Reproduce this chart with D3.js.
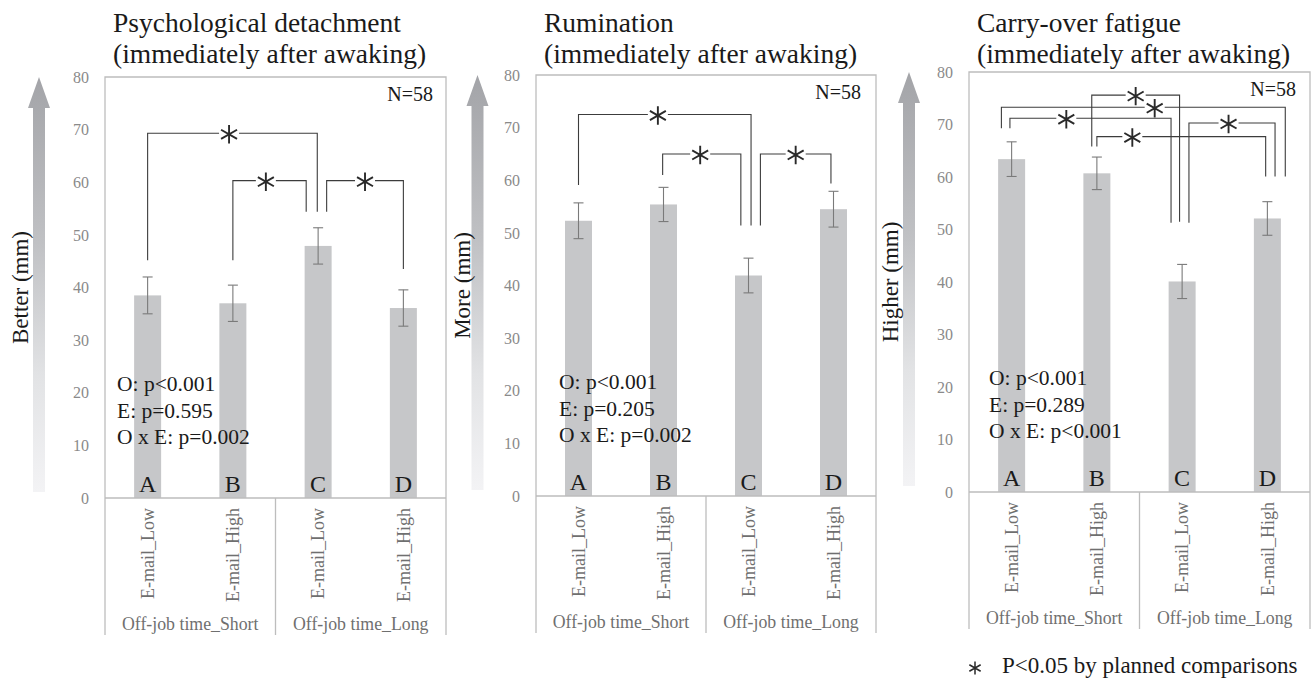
<!DOCTYPE html>
<html>
<head>
<meta charset="utf-8">
<script src="https://cdn.jsdelivr.net/npm/d3@7"></script>
<style>
body { margin: 0; background: #fff; }
text { font-family: "Liberation Serif", "Times New Roman", serif; }
</style>
</head>
<body>
<div id="viz"></div>
<script>
// ---- data ----
var letters = ['A', 'B', 'C', 'D'];
var emailLevels = ['E-mail_Low', 'E-mail_High', 'E-mail_Low', 'E-mail_High'];
var offJobGroups = ['Off-job time_Short', 'Off-job time_Long'];
var yTicks = [0, 10, 20, 30, 40, 50, 60, 70, 80];

var detachTitle = ['Psychological detachment', '(immediately after awaking)'];
var detachMean = [38.5, 37.0, 47.9, 36.1];
var detachSE = [3.5, 3.45, 3.45, 3.45];
var detachStats = ['O: p<0.001', 'E: p=0.595', 'O x E: p=0.002'];
// [from, to (category index), top, leg end from, leg end to, star position 0..1]
var detachBrackets = [
    [0, 1.99, 69.3, 45.2, 54.4, 0.48],
    [1.0, 1.86, 60.3, 45.2, 54.4, 0.45],
    [2.1, 3.0, 60.3, 54.4, 43.5, 0.5]
];

var rumTitle = ['Rumination', '(immediately after awaking)'];
var rumMean = [52.3, 55.4, 41.9, 54.5];
var rumSE = [3.4, 3.25, 3.3, 3.4];
var rumStats = ['O: p<0.001', 'E: p=0.205', 'O x E: p=0.002'];
var rumBrackets = [
    [0, 2.03, 72.5, 59.1, 51.4, 0.46],
    [0.99, 1.91, 65, 61, 51.4, 0.48],
    [2.14, 2.97, 65, 51.4, 59.4, 0.5]
];

var fatTitle = ['Carry-over fatigue', '(immediately after awaking)'];
var fatMean = [63.4, 60.7, 40.1, 52.1];
var fatSE = [3.3, 3.1, 3.25, 3.2];
var fatStats = ['O: p<0.001', 'E: p=0.289', 'O x E: p<0.001'];
var fatBrackets = [
    [0.94, 1.97, 75.6, 65.8, 51.5, 0.5],
    [-0.12, 3.21, 73.3, 69.3, 60.1, 0.54],
    [-0.02, 1.87, 71.2, 69.3, 51.3, 0.35],
    [2.08, 3.09, 70.3, 51.3, 60.1, 0.46],
    [1.0, 2.98, 67.7, 65.8, 60.1, 0.21]
];

var yLabels = ['Better (mm)', 'More (mm)', 'Higher (mm)'];
var sampleNote = 'N=58';
var footnote = 'P<0.05 by planned comparisons';

// ---- layout ----
var W = 1315, H = 682;
var panels = [
    {title: detachTitle, ylab: yLabels[0], mean: detachMean, se: detachSE, stats: detachStats, brackets: detachBrackets,
     left: 105, right: 446, top: 77, zero: 498, arrowX: 39, labelX: 20, statsX: 12, nRight: 433},
    {title: rumTitle, ylab: yLabels[1], mean: rumMean, se: rumSE, stats: rumStats, brackets: rumBrackets,
     left: 536, right: 876, top: 75, zero: 496, arrowX: 477.5, labelX: 462, statsX: 23, nRight: 861},
    {title: fatTitle, ylab: yLabels[2], mean: fatMean, se: fatSE, stats: fatStats, brackets: fatBrackets,
     left: 969, right: 1310, top: 72, zero: 492, arrowX: 909, labelX: 890, statsX: 20, nRight: 1296}
];

var svg = d3.select('#viz').append('svg')
    .attr('width', W)
    .attr('height', H);

var defs = svg.append('defs');
var grad = defs.append('linearGradient')
    .attr('id', 'arrowGrad')
    .attr('x1', 0).attr('y1', 0).attr('x2', 0).attr('y2', 1);
grad.append('stop').attr('offset', '0%').attr('stop-color', '#a3a4a8');
grad.append('stop').attr('offset', '40%').attr('stop-color', '#c0c1c4');
grad.append('stop').attr('offset', '72%').attr('stop-color', '#e2e3e5');
grad.append('stop').attr('offset', '100%').attr('stop-color', '#f3f3f5');

var boxColor = '#bdbdbd';
var starSymbol = d3.symbol().type(d3.symbolAsterisk).size(240);

panels.forEach(function(p) {
    var g = svg.append('g');
    var bottom = p.zero + 137;

    var y = d3.scaleLinear().domain([0, 80]).range([p.zero, p.top]);
    var x = d3.scaleBand().domain(letters).range([p.left, p.right]).padding(0);
    var bw = x.bandwidth();
    var xc = function(i) { return x(letters[i]) + bw / 2; };
    // fractional category positions for the comparison brackets
    var xi = d3.scaleLinear().domain([-0.5, 3.5]).range([p.left, p.right]);

    // title
    g.append('text').attr('x', p.left + 8).attr('y', 32)
        .attr('font-size', '27.5px').attr('fill', '#1a1a1a').text(p.title[0]);
    g.append('text').attr('x', p.left + 8).attr('y', 63)
        .attr('font-size', '27.5px').attr('fill', '#1a1a1a').text(p.title[1]);

    // gradient arrow
    var tip = y(80), headBase = tip + 31, aBottom = y(0) - 6;
    g.append('path')
        .attr('d', 'M' + p.arrowX + ',' + tip +
            'L' + (p.arrowX + 11) + ',' + headBase +
            'L' + (p.arrowX + 6) + ',' + headBase +
            'L' + (p.arrowX + 6) + ',' + aBottom +
            'L' + (p.arrowX - 6) + ',' + aBottom +
            'L' + (p.arrowX - 6) + ',' + headBase +
            'L' + (p.arrowX - 11) + ',' + headBase + 'Z')
        .attr('fill', 'url(#arrowGrad)');

    // y label
    g.append('text')
        .attr('transform', 'translate(' + p.labelX + ',' + ((p.top + p.zero) / 2) + ') rotate(-90)')
        .attr('dy', '0.35em')
        .attr('text-anchor', 'middle')
        .attr('font-size', '23px')
        .attr('fill', '#1a1a1a')
        .text(p.ylab);

    // y axis ticks
    var ya = g.append('g')
        .attr('transform', 'translate(' + p.left + ',0)')
        .call(d3.axisLeft(y).tickValues(yTicks).tickSize(0).tickPadding(16));
    ya.select('.domain').remove();
    ya.selectAll('text')
        .attr('font-family', '"Liberation Serif", serif')
        .attr('font-size', '16px')
        .attr('fill', '#8a8a8a');

    // bars
    var barW = 27;
    g.selectAll('.bar').data(p.mean).enter().append('rect')
        .attr('x', function(d, i) { return xc(i) - barW / 2; })
        .attr('y', function(d) { return y(d); })
        .attr('width', barW)
        .attr('height', function(d) { return y(0) - y(d); })
        .attr('fill', '#c6c7c9');

    // error bars
    p.mean.forEach(function(m, i) {
        var cx = xc(i);
        var e = g.append('g').attr('stroke', '#7a7a7a').attr('stroke-width', 1.1);
        e.append('line').attr('x1', cx).attr('x2', cx).attr('y1', y(m + p.se[i])).attr('y2', y(m - p.se[i]));
        e.append('line').attr('x1', cx - 5).attr('x2', cx + 5).attr('y1', y(m + p.se[i])).attr('y2', y(m + p.se[i]));
        e.append('line').attr('x1', cx - 5).attr('x2', cx + 5).attr('y1', y(m - p.se[i])).attr('y2', y(m - p.se[i]));
    });

    // letters
    g.selectAll('.letter').data(letters).enter().append('text')
        .attr('x', function(d, i) { return xc(i); })
        .attr('y', y(0) - 6)
        .attr('text-anchor', 'middle')
        .attr('font-size', '24px')
        .attr('fill', '#1a1a1a')
        .text(function(d) { return d; });

    // frame
    var fr = g.append('g').attr('stroke', boxColor).attr('stroke-width', 1.3).attr('fill', 'none');
    fr.append('path').attr('d', 'M' + p.left + ',' + bottom + 'V' + y(80) + 'H' + p.right + 'V' + bottom);
    fr.append('line').attr('x1', p.left).attr('x2', p.right).attr('y1', y(0)).attr('y2', y(0));
    fr.append('line').attr('x1', x('C')).attr('x2', x('C')).attr('y1', y(0)).attr('y2', bottom);

    // category axis
    var xa = g.append('g')
        .attr('transform', 'translate(0,' + y(0) + ')')
        .call(d3.axisBottom(x).tickSize(0).tickFormat(function(d, i) { return emailLevels[i]; }));
    xa.select('.domain').remove();
    xa.selectAll('text')
        .attr('y', 0)
        .attr('x', -10)
        .attr('dy', '0.35em')
        .attr('transform', 'rotate(-90)')
        .style('text-anchor', 'end')
        .attr('font-family', '"Liberation Serif", serif')
        .attr('font-size', '18px')
        .attr('fill', '#6f6f6f');

    // group labels
    offJobGroups.forEach(function(lbl, k) {
        var a = x(letters[k * 2]), b = x(letters[k * 2 + 1]) + bw;
        g.append('text')
            .attr('x', (a + b) / 2)
            .attr('y', y(0) + 132)
            .attr('text-anchor', 'middle')
            .attr('font-size', '17.8px')
            .attr('fill', '#6f6f6f')
            .text(lbl);
    });

    // N
    g.append('text').attr('x', p.nRight).attr('y', p.top + 24)
        .attr('text-anchor', 'end').attr('font-size', '20px').attr('fill', '#1a1a1a').text(sampleNote);

    // stats
    p.stats.forEach(function(s, k) {
        g.append('text')
            .attr('x', p.left + p.statsX)
            .attr('y', y(0) - 107 + k * 26.5)
            .attr('font-size', '21.5px')
            .attr('fill', '#1a1a1a')
            .text(s);
    });

    // comparison brackets
    p.brackets.forEach(function(b) {
        var x1 = xi(b[0]), x2 = xi(b[1]), yt = y(b[2]);
        var sx = x1 + (x2 - x1) * b[5];
        var gap = 10;
        var bg = g.append('g').attr('stroke', '#3c3c3c').attr('stroke-width', 1.1).attr('fill', 'none');
        bg.append('path').attr('d', 'M' + x1 + ',' + y(b[3]) + 'V' + yt + 'H' + (sx - gap));
        bg.append('path').attr('d', 'M' + (sx + gap) + ',' + yt + 'H' + x2 + 'V' + y(b[4]));
        g.append('path')
            .attr('d', starSymbol())
            .attr('transform', 'translate(' + sx + ',' + (yt + 1) + ')')
            .attr('stroke', '#2a2a2a')
            .attr('stroke-width', 1.9)
            .attr('fill', 'none');
    });
});

// footnote
svg.append('path')
    .attr('d', d3.symbol().type(d3.symbolAsterisk).size(120)())
    .attr('transform', 'translate(975,668)')
    .attr('stroke', '#2a2a2a')
    .attr('stroke-width', 1.5)
    .attr('fill', 'none');
svg.append('text')
    .attr('x', 1002)
    .attr('y', 673)
    .attr('font-size', '23px')
    .attr('fill', '#1a1a1a')
    .text(footnote);
</script>
</body>
</html>
